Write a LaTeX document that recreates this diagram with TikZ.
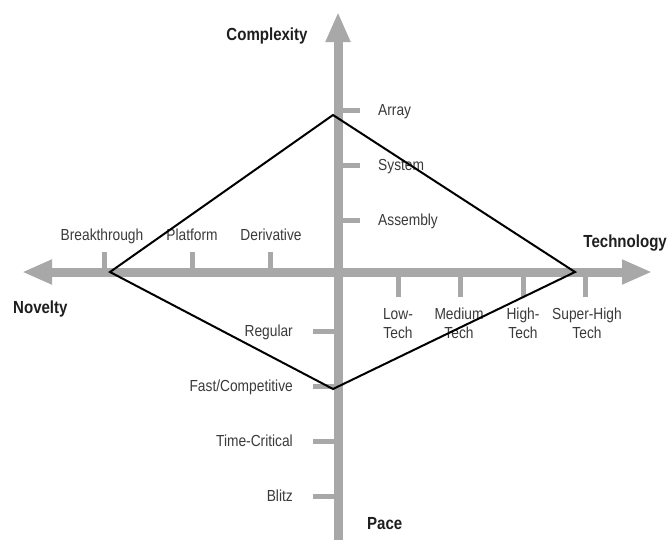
\documentclass[tikz,border=0pt]{standalone}
\usepackage{fontspec}
\setmainfont[FakeStretch=0.86]{Liberation Sans}
\usetikzlibrary{arrows.meta}
\definecolor{axisgray}{RGB}{168,168,168}
\definecolor{labelgray}{RGB}{58,58,58}
\definecolor{titleink}{RGB}{30,30,30}
\tikzset{
  axisline/.style={draw=axisgray, line width=9pt},
  axistip/.tip={Triangle[length=30pt,width=23pt]},
  tickmark/.style={draw=axisgray, line width=5pt},
  lbl/.style={font=\fontsize{16}{19}\selectfont, text=labelgray, inner sep=0pt},
  ttl/.style={font=\bfseries\fontsize{17.5}{21}\selectfont, text=titleink, inner sep=0pt},
  profile/.style={draw=black, line width=2pt, line join=miter}
}
\begin{document}
\begin{tikzpicture}[x=1pt,y=-1pt]
\useasboundingbox (0,0) rectangle (670,542);

% axis end points and origin
\coordinate (O) at (338,272);
\coordinate (top) at (338,12);
\coordinate (bottom) at (338,540);
\coordinate (left) at (22,272);
\coordinate (right) at (652,272);

% axes
\draw[axisline, -axistip] (bottom) -- (top);
\draw[axisline, axistip-axistip] (left) -- (right);

% complexity ticks
\foreach \y/\n in {110/array,165/system,220/assembly}
  \draw[tickmark] (338,\y) coordinate (t-\n) -- (360,\y);
% pace ticks
\foreach \y/\n in {331/regular,386/fast,441/critical,496/blitz}
  \draw[tickmark] (313,\y) -- (338,\y) coordinate (t-\n);
% novelty ticks
\foreach \x/\n in {104/breakthrough,192/platform,270/derivative}
  \draw[tickmark] (\x,252) -- (\x,272) coordinate (t-\n);
% technology ticks
\foreach \x/\n in {398/low,460/medium,523/high,585/superhigh}
  \draw[tickmark] (\x,272) coordinate (t-\n) -- (\x,297);

% axis titles
\node[ttl, anchor=base] (complexity) at (267,40.7) {Complexity};
\node[ttl, anchor=base west] (novelty) at (13,313) {Novelty};
\node[ttl, anchor=base east] (technology) at (667,247.3) {Technology};
\node[ttl, anchor=base west] (pace) at (367,529) {Pace};

% complexity levels
\node[lbl, anchor=base west] (array) at (378,115) {Array};
\node[lbl, anchor=base west] (system) at (378,170.7) {System};
\node[lbl, anchor=base west] (assembly) at (378,225.7) {Assembly};

% novelty levels
\node[lbl, anchor=base] (breakthrough) at (102,240.7) {Breakthrough};
\node[lbl, anchor=base] (platform) at (192,240.7) {Platform};
\node[lbl, anchor=base] (derivative) at (271,240.7) {Derivative};

% pace levels
\node[lbl, anchor=base east] (regular) at (293,336) {Regular};
\node[lbl, anchor=base east] (fast) at (293,391.7) {Fast/Competitive};
\node[lbl, anchor=base east] (critical) at (293,446.7) {Time-Critical};
\node[lbl, anchor=base east] (blitz) at (293,501.7) {Blitz};

% technology levels
\node[lbl, anchor=north, align=center] (low) at (398,308) {Low-\\Tech};
\node[lbl, anchor=north, align=center] (medium) at (459,308) {Medium\\Tech};
\node[lbl, anchor=north, align=center] (high) at (523,308) {High-\\Tech};
\node[lbl, anchor=north, align=center] (superhigh) at (587,308) {Super-High\\Tech};

% project profile
\coordinate (p-top) at (333,115);
\coordinate (p-right) at (575,272);
\coordinate (p-bottom) at (333,389);
\coordinate (p-left) at (110,272);
\draw[profile] (p-top) -- (p-right) -- (p-bottom) -- (p-left) -- cycle;
\end{tikzpicture}
\end{document}
